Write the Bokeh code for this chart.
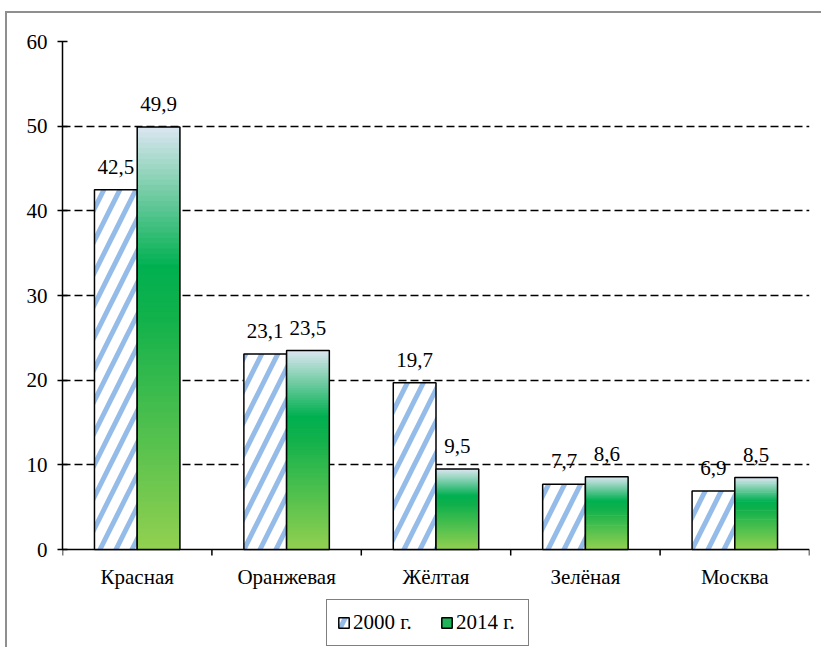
import math
import numpy as np
from bokeh.plotting import figure
from bokeh.models import (Range1d, FixedTicker, ColumnDataSource, Legend, LegendItem,
                          LinearAxis, Grid)
from bokeh.core.properties import value
from bokeh.embed import file_html
from bokeh.resources import INLINE

# ---------------- data ----------------
regions = ["Красная", "Оранжевая", "Жёлтая", "Зелёная", "Москва"]
v2000 = [42.5, 23.1, 19.7, 7.7, 6.9]
v2014 = [49.9, 23.5, 9.5, 8.6, 8.5]
series_names = ["2000 г.", "2014 г."]
y_ticks = [0, 10, 20, 30, 40, 50, 60]

FONT = "'Liberation Serif', 'Times New Roman', serif"
FS = "21px"

p = figure(width=816, height=636, output_backend="svg", toolbar_location=None,
           x_range=Range1d(0, 5), y_range=Range1d(-11.57, 60),
           min_border_left=55, min_border_right=14, min_border_top=28,
           min_border_bottom=2, x_axis_type=None, y_axis_type=None)
p.outline_line_color = None
p.background_fill_color = "white"
p.border_fill_color = "white"
p.styles = {"border-left": "2px solid #8f8f8f", "border-top": "2px solid #8f8f8f"}
p.margin = (11, 0, 0, 5)

# y axis
yax = LinearAxis(ticker=FixedTicker(ticks=y_ticks, minor_ticks=[]), bounds=(0, 60))
yax.axis_line_color = "black"
yax.axis_line_width = 1.5
yax.major_tick_line_color = "black"
yax.major_tick_line_width = 1.5
yax.major_tick_in = 5
yax.major_tick_out = 5
yax.minor_tick_line_color = None
yax.major_label_standoff = 10
yax.major_label_text_font = FONT
yax.major_label_text_font_size = FS
yax.major_label_text_color = "black"
p.add_layout(yax, "left")

# grid
g = Grid(dimension=1, ticker=FixedTicker(ticks=y_ticks[1:]))
g.grid_line_color = "black"
g.grid_line_width = 1.4
g.grid_line_dash = "8 4"
p.add_layout(g)

# category (x) axis drawn with glyphs
n = len(regions)
p.segment(x0=[0], y0=[0], x1=[n], y1=[0], line_color="black", line_width=1.5)
p.ray(x=list(range(n + 1)), y=[0] * (n + 1), length=6, length_units="screen",
      angle=-math.pi / 2, line_color="black", line_width=1.5)
centers = [i + 0.5 for i in range(n)]
p.text(x=centers, y=[0] * n, text=regions, text_align="center",
       text_baseline="alphabetic", y_offset=27, text_font=value(FONT),
       text_font_size=FS, text_color="black")

# bars
off_l = 0.214
off_m = 0.5
off_r = 0.786
b2000 = ColumnDataSource(dict(left=[i + off_l for i in range(n)],
                              right=[i + off_m for i in range(n)],
                              top=v2000, bottom=[0] * n))
r2000 = p.quad(left="left", right="right", top="top", bottom="bottom", source=b2000,
               fill_color="white", hatch_pattern="/", hatch_color="#95bbe8",
               hatch_scale=32, hatch_weight=5,
               line_color="black", line_width=1.5)

# gradient for 2014 bars
def hex2rgb(h):
    h = h.lstrip("#")
    return tuple(int(h[k:k + 2], 16) for k in (0, 2, 4))

stops = [(0.0, hex2rgb("#dce6f2")), (0.33, hex2rgb("#00b050")), (0.45, hex2rgb("#12b14c")),
         (1.0, hex2rgb("#92d050"))]

def grad(t):
    for (t0, c0), (t1, c1) in zip(stops[:-1], stops[1:]):
        if t <= t1:
            f = (t - t0) / (t1 - t0) if t1 > t0 else 0
            return "#%02x%02x%02x" % tuple(int(round(a + (b - a) * f)) for a, b in zip(c0, c1))
    return "#%02x%02x%02x" % stops[-1][1]

N = 80
gl, gr, gb, gt, gc = [], [], [], [], []
for i, v in enumerate(v2014):
    for k in range(N):
        gl.append(i + off_m)
        gr.append(i + off_r)
        gb.append(v * k / N)
        gt.append(min(v, v * (k + 1.8) / N))
        gc.append(grad(1 - (k + 0.5) / N))
p.quad(left=gl, right=gr, bottom=gb, top=gt, fill_color=gc, line_color=None)
b2014 = ColumnDataSource(dict(left=[i + off_m for i in range(n)],
                              right=[i + off_r for i in range(n)],
                              top=v2014, bottom=[0] * n))
p.quad(left="left", right="right", top="top", bottom="bottom", source=b2014,
       fill_alpha=0, line_color="black", line_width=1.5)

# legend proxy for 2014 (not drawn in the plot area)
nan = np.array([np.nan])
r2014 = p.quad(left=nan, right=nan, top=nan, bottom=nan, fill_color="#1fb457",
               line_color="black", line_width=1.5)

# value labels
def fmt(v):
    return ("%.1f" % v).replace(".", ",")

lab = ColumnDataSource(dict(
    x=[i + (off_l + off_m) / 2 for i in range(n)] +
      [i + (off_m + off_r) / 2 for i in range(n)],
    y=v2000 + v2014,
    t=[fmt(v) for v in v2000] + [fmt(v) for v in v2014]))
p.text(x="x", y="y", text="t", source=lab, text_align="center",
       text_baseline="alphabetic", y_offset=-23, text_font=value(FONT),
       text_font_size=FS, text_color="black")

legend = Legend(items=[LegendItem(label=series_names[0], renderers=[r2000]),
                       LegendItem(label=series_names[1], renderers=[r2014])],
                orientation="horizontal", location=(264, 1))
legend.margin = 0
legend.padding = 10
legend.spacing = 25
legend.label_standoff = 3
legend.label_width = 62
legend.glyph_width = 13
legend.glyph_height = 13
legend.label_text_font = FONT
legend.label_text_font_size = FS
legend.label_text_color = "black"
legend.border_line_color = "black"
legend.border_line_width = 1.5
legend.background_fill_color = "white"
legend.background_fill_alpha = 1
p.add_layout(legend, "center")

open("out.html", "w").write(file_html(p, INLINE))
